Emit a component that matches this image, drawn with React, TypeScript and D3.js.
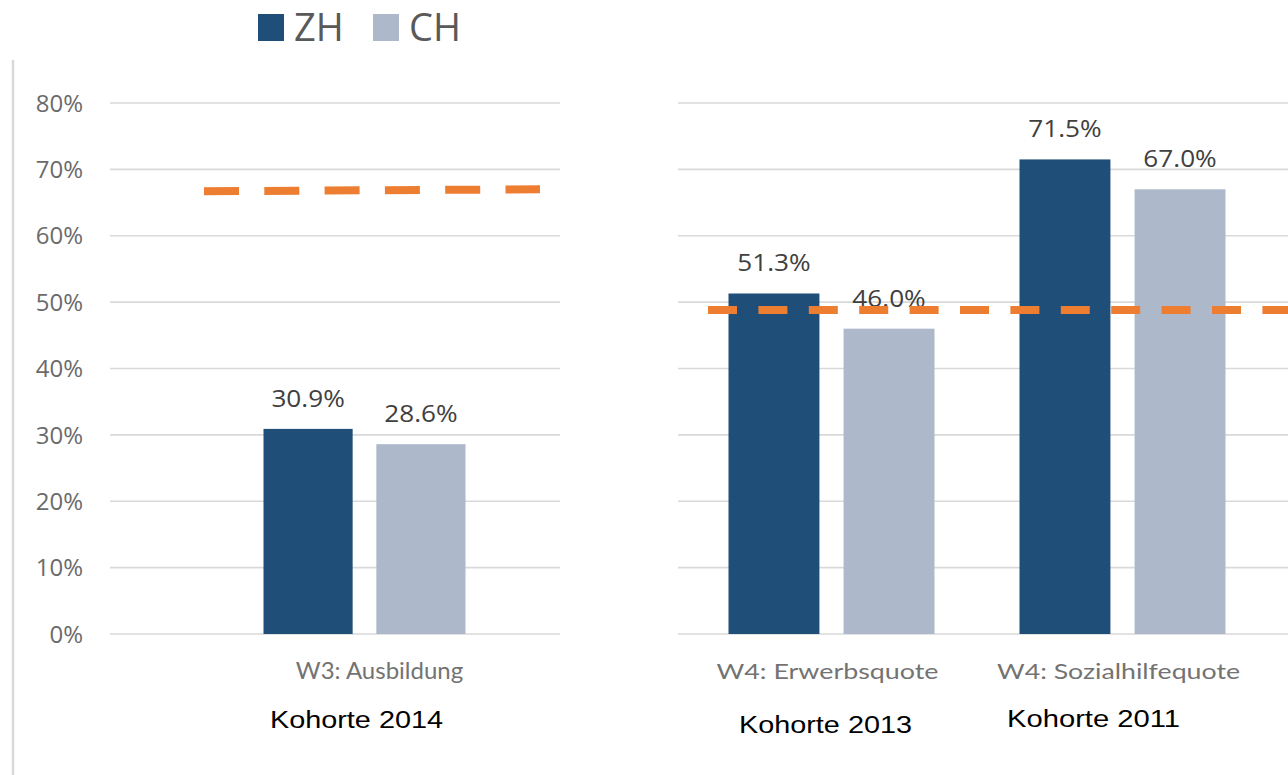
import React from "react";
import * as d3 from "d3";

const series = ["ZH", "CH"];
const seriesColors = ["#1f4e79", "#adb9ca"];

const leftCategories = ["W3: Ausbildung"];
const leftZH = [0.309];
const leftCH = [0.286];
const leftKohorte = ["Kohorte 2014"];
const leftThreshold = [0.667, 0.670];

const rightCategories = ["W4: Erwerbsquote", "W4:  Sozialhilfequote"];
const rightZH = [0.513, 0.715];
const rightCH = [0.46, 0.67];
const rightKohorte = ["Kohorte 2013", "Kohorte 2011"];
const rightThreshold = [0.488, 0.488];

const yTicks = [0, 0.1, 0.2, 0.3, 0.4, 0.5, 0.6, 0.7, 0.8];

const W = 1288;
const H = 775;

const y = d3.scaleLinear().domain([0, 0.8]).range([634, 103]);
const pct = d3.format(".1%");

type PanelProps = {
  cats: string[];
  zh: number[];
  ch: number[];
  kohorte: string[];
  kohorteDx: number[];
  kohorteDy: number[];
  threshold: number[];
  range: [number, number];
  gridRange: [number, number];
  dashRange: [number, number];
  dash: string;
  groupWidth: number;
  catLabelLen: (number | undefined)[];
  catLabelDx: number[];
  catFontSize: number[];
};

function Panel(p: PanelProps) {
  const x = d3.scaleBand<string>().domain(p.cats).range(p.range).padding(0);
  const vals = [p.zh, p.ch];
  return (
    <g>
      {yTicks.map((t) => (
        <line key={t} x1={p.gridRange[0]} x2={p.gridRange[1]} y1={y(t)} y2={y(t)} stroke="#d9d9d9" strokeWidth={1.6} />
      ))}
      {p.cats.map((c, i) => {
        const cx = (x(c) as number) + x.bandwidth() / 2;
        const inner = d3
          .scaleBand<string>()
          .domain(series)
          .range([cx - p.groupWidth / 2, cx + p.groupWidth / 2])
          .paddingInner(0.21);
        const len = p.catLabelLen[i];
        return (
          <g key={c}>
            {series.map((s, si) => {
              const v = vals[si][i];
              const bx = inner(s) as number;
              return (
                <g key={s}>
                  <rect x={bx} y={y(v)} width={inner.bandwidth()} height={y(0) - y(v)} fill={seriesColors[si]} />
                  <text
                    transform={`translate(${bx + inner.bandwidth() / 2},${y(v) - 22}) scale(1.09,1)`}
                    textAnchor="middle"
                    fontFamily="'Open Sans', sans-serif"
                    fontSize={24}
                    fill="#404040"
                  >
                    {pct(v)}
                  </text>
                </g>
              );
            })}
            <text
              x={cx + p.catLabelDx[i]}
              y={679}
              textAnchor="middle"
              fontFamily="Lato, 'Open Sans', sans-serif"
              fontSize={p.catFontSize[i]}
              fill="#737373"
              {...(len ? { textLength: len, lengthAdjust: "spacingAndGlyphs" } : {})}
            >
              {c}
            </text>
            <text
              x={cx + p.kohorteDx[i]}
              y={728 + p.kohorteDy[i]}
              textAnchor="middle"
              fontFamily="'Liberation Sans', Arial, sans-serif"
              fontSize={23}
              fill="#000"
              textLength={173}
              lengthAdjust="spacingAndGlyphs"
            >
              {p.kohorte[i]}
            </text>
          </g>
        );
      })}
      <line
        x1={p.dashRange[0]}
        x2={p.dashRange[1]}
        y1={y(p.threshold[0])}
        y2={y(p.threshold[1])}
        stroke="#ed7d31"
        strokeWidth={8}
        strokeDasharray={p.dash}
      />
    </g>
  );
}

export default function App() {
  return (
    <svg width={W} height={H} style={{ display: "block", position: "absolute", left: 0, top: 0 }}>
      <rect width={W} height={H} fill="#fff" />
      <line x1={13} x2={13} y1={60} y2={775} stroke="#d9d9d9" strokeWidth={2.5} />
      {yTicks.map((t) => (
        <text
          key={t}
          x={83}
          y={y(t)}
          dy="0.36em"
          textAnchor="end"
          fontFamily="'Open Sans', sans-serif"
          fontSize={24}
          fill="#6b6b6b"
        >
          {d3.format(".0%")(t)}
        </text>
      ))}
      <Panel
        cats={leftCategories}
        zh={leftZH}
        ch={leftCH}
        kohorte={leftKohorte}
        kohorteDx={[-8]}
        kohorteDy={[0]}
        threshold={leftThreshold}
        range={[170, 559]}
        gridRange={[110, 560]}
        dashRange={[204, 540]}
        dash="35 25.3"
        groupWidth={202}
        catLabelLen={[undefined]}
        catLabelDx={[15]}
        catFontSize={[24]}
      />
      <Panel
        cats={rightCategories}
        zh={rightZH}
        ch={rightCH}
        kohorte={rightKohorte}
        kohorteDx={[-6, -29]}
        kohorteDy={[5, -1]}
        threshold={rightThreshold}
        range={[686, 1268]}
        gridRange={[678, 1288]}
        dashRange={[708, 1288]}
        dash="29 21.4"
        groupWidth={206}
        catLabelLen={[222, 243]}
        catLabelDx={[-4, -4]}
        catFontSize={[22, 22]}
      />
      {series.map((s, i) => (
        <g key={s} transform={`translate(${[258, 373][i]},0)`}>
          <rect x={0} y={14} width={26} height={27} fill={seriesColors[i]} />
          <text x={36} y={41} fontFamily="'Open Sans', sans-serif" fontSize={38} fill="#595959">
            {s}
          </text>
        </g>
      ))}
    </svg>
  );
}
